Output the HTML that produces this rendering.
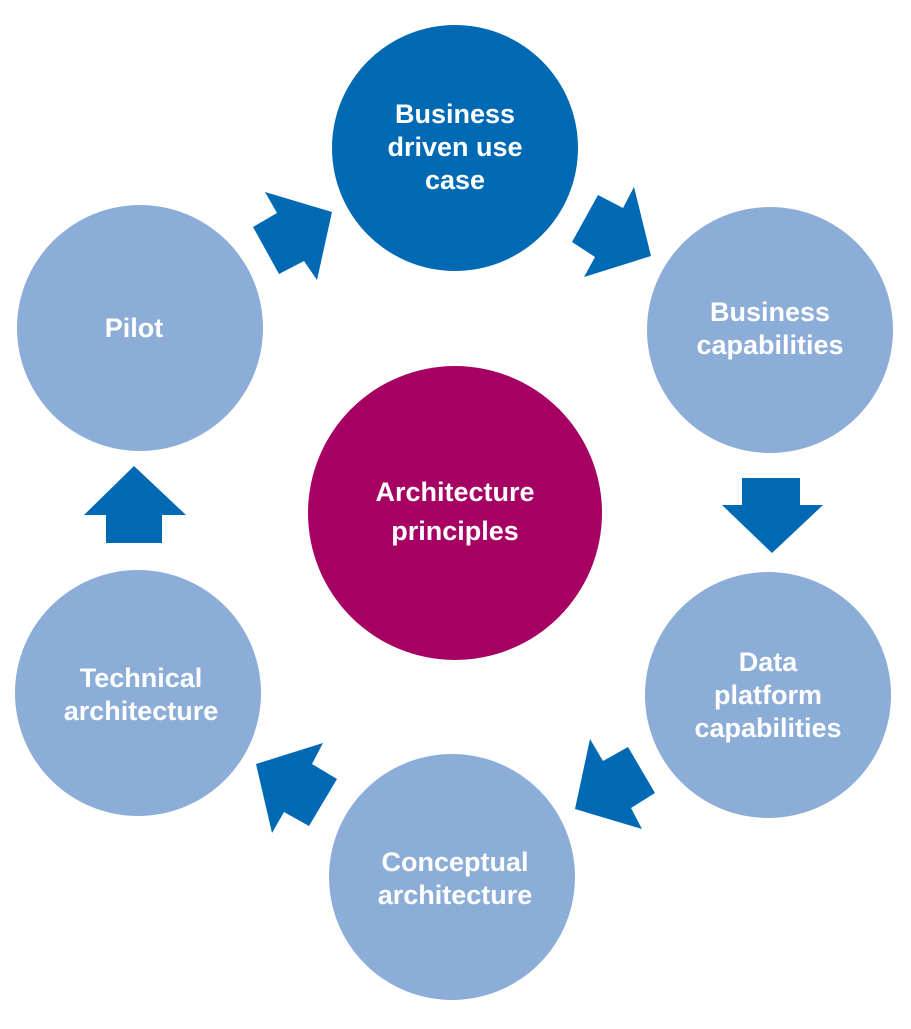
<!DOCTYPE html>
<html><head><style>
body{margin:0;background:#fff}
svg text{font-family:"Liberation Sans",sans-serif;font-weight:bold;fill:#fff;font-size:27px;text-anchor:middle}
</style></head><body>
<svg width="911" height="1024" viewBox="0 0 911 1024">
<circle cx="455" cy="148" r="123" fill="#0069b4"/>
<circle cx="770" cy="330" r="123" fill="#8badd7"/>
<circle cx="768" cy="695" r="123" fill="#8badd7"/>
<circle cx="452" cy="877" r="123" fill="#8badd7"/>
<circle cx="138" cy="693" r="123" fill="#8badd7"/>
<circle cx="140" cy="328" r="123" fill="#8badd7"/>
<circle cx="455" cy="513" r="147" fill="#a50062"/>
<g fill="#0069b4">
<polygon points="265,192 332,212 317,280 304,261 279,274 253,227 277,213"/>
<polygon points="598,195 623,208 634,187 651,256 584,277 595,257 572,242"/>
<polygon points="742,478 800,478 800,505 823,505 772,553 722,505 742,505"/>
<polygon points="106,543 162,543 162,515 186,515 134,466 84,515 106,515"/>
<polygon points="590,739 603,761 628,747 655,793 631,808 642,829 575,809"/>
<polygon points="256,764 323,743 312,764 337,779 309,826 284,812 272,833"/>
</g>
<text x="455" y="123">Business</text>
<text x="455" y="156">driven use</text>
<text x="455" y="189">case</text>
<text x="770" y="321">Business</text>
<text x="770" y="354">capabilities</text>
<text x="768" y="671">Data</text>
<text x="768" y="704">platform</text>
<text x="768" y="737">capabilities</text>
<text x="455" y="871">Conceptual</text>
<text x="455" y="904">architecture</text>
<text x="141" y="687">Technical</text>
<text x="141" y="720">architecture</text>
<text x="134" y="337">Pilot</text>
<text x="455" y="501">Architecture</text>
<text x="455" y="540">principles</text>
</svg>
</body></html>
